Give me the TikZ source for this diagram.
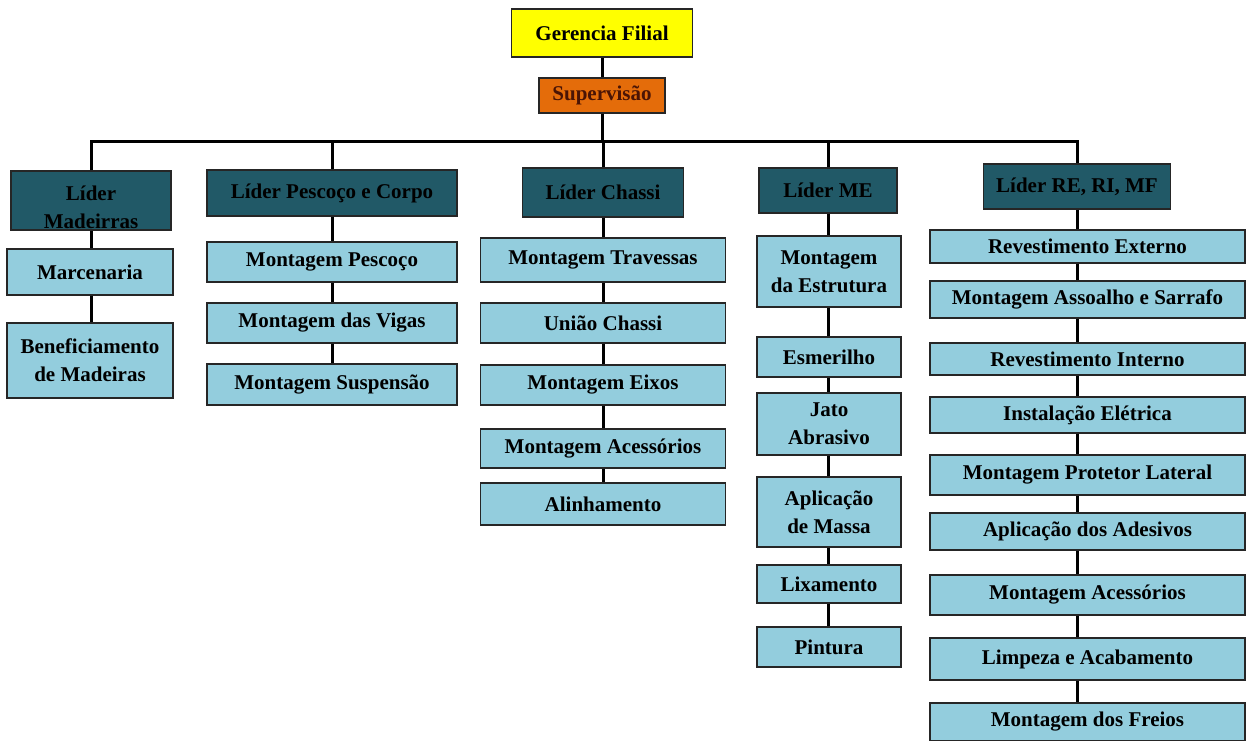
\documentclass[tikz,border=0pt]{standalone}
\usepackage{fontspec}
\setmainfont{Liberation Serif}

\definecolor{gerenciafill}{HTML}{FFFF00}
\definecolor{supfill}{HTML}{E46C0A}
\definecolor{suptext}{HTML}{4A1405}
\definecolor{liderfill}{HTML}{215967}
\definecolor{setorfill}{HTML}{93CDDD}
\definecolor{borda}{HTML}{262626}

\tikzset{
  box/.style={draw=borda, line width=1.2pt, inner sep=0pt, align=center,
    font=\fontsize{21}{28}\selectfont\bfseries},
  topbox/.style={box, fill=gerenciafill},
  supbox/.style={box, fill=supfill, text=suptext},
  liderbox/.style={box, fill=liderfill},
  setorbox/.style={box, fill=setorfill},
  conn/.style={line width=3pt, black},
}

\begin{document}
\begin{tikzpicture}[x=1pt,y=-1pt]
    \useasboundingbox[fill=white] (0,0) rectangle (1254,740);

    % Top of the chart
    \node[topbox, minimum width=181, minimum height=48] (ger) at (602,33) {Gerencia Filial};
    \node[supbox, minimum width=126, minimum height=35] (sup) at (602,95.5) {Supervisão};
    \coordinate (bus) at (0,141);
    \draw[conn] (ger) -- (sup);
    \draw[conn] (sup.south) -- (sup.south |- bus);

    % Leaders
    \node[liderbox, minimum width=160, minimum height=59] (lmad) at (91,200.5) {};
    \node[box, draw=none] (lmadtxt) at (91,207) {Líder\\Madeirras};
    \node[liderbox, minimum width=250, minimum height=46] (lpes) at (332,193) {Líder Pescoço e Corpo};
    \node[liderbox, minimum width=161, minimum height=49] (lcha) at (603,192.5) {Líder Chassi};
    \node[liderbox, minimum width=138, minimum height=45] (lme) at (828,190.5) {Líder ME};
    \node[liderbox, minimum width=187, minimum height=45] (lre) at (1077,186.5) {Líder RE, RI, MF};

    % Bus line to the leaders
    \draw[conn] (lmad.north) -- (lmad.north |- bus) -- (lre.north |- bus) -- (lre.north);
    \foreach \l in {lpes, lcha, lme}
      \draw[conn] (\l.north) -- (\l.north |- bus);

    % Madeiras
    \foreach \n/\y/\h/\txt [remember=\n as \prev (initially lmad)] in
      {mad1/272/46/Marcenaria, mad2/360.5/75/{Beneficiamento\\de Madeiras}} {
      \node[setorbox, minimum width=166, minimum height=\h] (\n) at (90,\y) {\txt};
      \draw[conn] (\prev.south -| lmad) -- (\n.north -| lmad);
    }

    % Pescoco e Corpo
    \foreach \n/\y/\h/\txt [remember=\n as \prev (initially lpes)] in
      {pes1/262/40/Montagem Pescoço, pes2/323/40/Montagem das Vigas,
       pes3/384.5/41/Montagem Suspensão} {
      \node[setorbox, minimum width=250, minimum height=\h] (\n) at (332,\y) {\txt};
      \draw[conn] (\prev.south -| lpes) -- (\n.north -| lpes);
    }

    % Chassi
    \foreach \n/\y/\h/\txt [remember=\n as \prev (initially lcha)] in
      {cha1/260/44/Montagem Travessas, cha2/323/40/União Chassi,
       cha3/385/40/Montagem Eixos, cha4/448.5/39/Montagem Acessórios,
       cha5/504/42/Alinhamento} {
      \node[setorbox, minimum width=245, minimum height=\h] (\n) at (603,\y) {\txt};
      \draw[conn] (\prev.south -| lcha) -- (\n.north -| lcha);
    }

    % ME
    \foreach \n/\y/\h/\txt [remember=\n as \prev (initially lme)] in
      {me1/271.5/71/{Montagem\\da Estrutura}, me2/357/40/Esmerilho,
       me3/424/62/{Jato\\Abrasivo}, me4/512/70/{Aplicação\\de Massa},
       me5/584/38/Lixamento, me6/647/40/Pintura} {
      \node[setorbox, minimum width=144, minimum height=\h] (\n) at (829,\y) {\txt};
      \draw[conn] (\prev.south -| lme) -- (\n.north -| lme);
    }

    % RE, RI, MF
    \foreach \n/\y/\h/\txt [remember=\n as \prev (initially lre)] in
      {re1/246.5/33/Revestimento Externo, re2/299.5/37/Montagem Assoalho e Sarrafo,
       re3/359/32/Revestimento Interno, re4/415/36/Instalação Elétrica,
       re5/475/40/Montagem Protetor Lateral, re6/531.5/37/Aplicação dos Adesivos,
       re7/595/40/Montagem Acessórios, re8/659/42/Limpeza e Acabamento,
       re9/722/38/Montagem dos Freios} {
      \node[setorbox, minimum width=315, minimum height=\h] (\n) at (1087.5,\y) {\txt};
      \draw[conn] (\prev.south -| lre) -- (\n.north -| lre);
    }

  \end{tikzpicture}
\end{document}
